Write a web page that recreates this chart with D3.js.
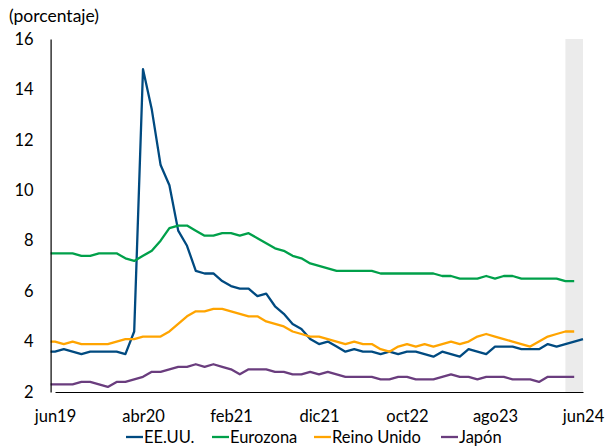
<!DOCTYPE html>
<html>
<head>
<meta charset="utf-8">
<script src="https://cdn.jsdelivr.net/npm/d3@7"></script>
<style>
  html, body { margin: 0; padding: 0; background: #fff; }
  svg { display: block; font-family: Lato, "Open Sans", sans-serif; }
</style>
</head>
<body>
<svg id="chart" width="606" height="446"></svg>
<script>
// ---- Data (monthly, may19 .. jun24) ----
const monthNames = ["ene","feb","mar","abr","may","jun","jul","ago","sep","oct","nov","dic"];
const startMonth = new Date(2019, 4, 1); // may19 (just before the first labelled month)
const usa = [3.6,3.6,3.7,3.6,3.5,3.6,3.6,3.6,3.6,3.5,4.4,14.8,13.2,11.0,10.2,8.4,7.8,6.8,6.7,6.7,
  6.4,6.2,6.1,6.1,5.8,5.9,5.4,5.1,4.7,4.5,4.1,3.9,4.0,3.8,3.6,3.7,3.6,3.6,3.5,3.6,
  3.5,3.6,3.6,3.5,3.4,3.6,3.5,3.4,3.7,3.6,3.5,3.8,3.8,3.8,3.7,3.7,3.7,3.9,3.8,3.9,4.0,4.1];
const eurozona = [7.5,7.5,7.5,7.5,7.4,7.4,7.5,7.5,7.5,7.3,7.2,7.4,7.6,8.0,8.5,8.6,8.6,8.4,8.2,8.2,
  8.3,8.3,8.2,8.3,8.1,7.9,7.7,7.6,7.4,7.3,7.1,7.0,6.9,6.8,6.8,6.8,6.8,6.8,6.7,6.7,
  6.7,6.7,6.7,6.7,6.7,6.6,6.6,6.5,6.5,6.5,6.6,6.5,6.6,6.6,6.5,6.5,6.5,6.5,6.5,6.4,6.4];
const reinoUnido = [4.0,4.0,3.9,4.0,3.9,3.9,3.9,3.9,4.0,4.1,4.1,4.2,4.2,4.2,4.4,4.7,5.0,5.2,5.2,5.3,
  5.3,5.2,5.1,5.0,5.0,4.8,4.7,4.6,4.4,4.3,4.2,4.2,4.1,4.0,3.9,4.0,3.9,3.9,3.7,3.6,
  3.8,3.9,3.8,3.9,3.8,3.9,4.0,3.9,4.0,4.2,4.3,4.2,4.1,4.0,3.9,3.8,4.0,4.2,4.3,4.4,4.4];
const japon = [2.3,2.3,2.3,2.3,2.4,2.4,2.3,2.2,2.4,2.4,2.5,2.6,2.8,2.8,2.9,3.0,3.0,3.1,3.0,3.1,
  3.0,2.9,2.7,2.9,2.9,2.9,2.8,2.8,2.7,2.7,2.8,2.7,2.8,2.7,2.6,2.6,2.6,2.6,2.5,2.5,
  2.6,2.6,2.5,2.5,2.5,2.6,2.7,2.6,2.6,2.5,2.6,2.6,2.6,2.5,2.5,2.5,2.4,2.6,2.6,2.6,2.6];
const seriesNames = ["EE.UU.", "Eurozona", "Reino Unido", "Japón"];
const seriesColors = ["#004a80", "#00a04a", "#ffa400", "#6a3d7e"];
const tickLabels = ["jun19","abr20","feb21","dic21","oct22","ago23","jun24"];
const yTicks = [2,4,6,8,10,12,14,16];
const shadeRange = ["abr24","jun24"];
const yTitle = "(porcentaje)";

// month labels for every data point
const months = d3.range(usa.length).map(i => {
  const d = d3.timeMonth.offset(startMonth, i);
  return monthNames[d.getMonth()] + String(d.getFullYear() % 100).padStart(2, "0");
});

const svg = d3.select("#chart");
const L = 50.6, R = 587.4, T = 39, B = 392;

// category scale: jun19 .. jun24 with points at band centres
const cats = months.slice(1); // jun19..jun24 (61 categories)
const band = d3.scaleBand().domain(cats).range([L, R]).paddingInner(0).paddingOuter(0);
const step = band.step();
const xPos = m => {
  const idx = months.indexOf(m);
  return L + (idx - 1) * step + step / 2;
};
const y = d3.scaleLinear().domain([2, 16]).range([B, T]);

// shaded period
svg.append("rect")
  .attr("x", xPos(shadeRange[0]))
  .attr("y", y(16))
  .attr("width", xPos(shadeRange[1]) - xPos(shadeRange[0]))
  .attr("height", y(2) - y(16))
  .attr("fill", "#ebebeb");

// clip
svg.append("clipPath").attr("id", "plotclip")
  .append("rect").attr("x", L).attr("y", 0).attr("width", R - L + 10).attr("height", B + 2);

const line = d3.line().x(d => xPos(d.m)).y(d => y(d.v));
const allSeries = [usa, eurozona, reinoUnido, japon];
const g = svg.append("g").attr("clip-path", "url(#plotclip)");
allSeries.forEach((s, k) => {
  const pts = s.map((v, i) => ({ m: months[i], v }));
  g.append("path")
    .datum(pts)
    .attr("d", line)
    .attr("fill", "none")
    .attr("stroke", seriesColors[k])
    .attr("stroke-width", 2.3)
    .attr("stroke-linejoin", "round");
});

// y axis
const yAxis = d3.axisLeft(y).tickValues(yTicks).tickSize(0).tickPadding(17).tickFormat(d3.format("d"));
const ya = svg.append("g").attr("transform", `translate(${L},0)`).call(yAxis);
ya.select(".domain").attr("stroke", "#000").attr("stroke-width", 1.2);
ya.selectAll("text").attr("font-size", 16.5).attr("fill", "#000").attr("font-family", "Lato, sans-serif");

// x axis
const xAxisScale = d3.scalePoint().domain(cats).range([L + step / 2, R - step / 2]);
const xAxis = d3.axisBottom(xAxisScale).tickValues(tickLabels).tickSize(0).tickPadding(18);
const xa = svg.append("g").attr("transform", `translate(0,${B})`).call(xAxis);
xa.select(".domain").attr("stroke", "#000").attr("stroke-width", 1.2);
xa.selectAll("text").attr("font-size", 16.5).attr("fill", "#000").attr("font-family", "Lato, sans-serif");

// title
svg.append("text").attr("x", 9).attr("y", 22).attr("font-size", 17.5).attr("fill", "#000").text(yTitle);

// legend
const legendX = [126, 212, 314, 441];
seriesNames.forEach((n, k) => {
  const lg = svg.append("g").attr("transform", `translate(${legendX[k]},437)`);
  lg.append("line").attr("x1", 0).attr("x2", 17).attr("y1", 0).attr("y2", 0)
    .attr("stroke", seriesColors[k]).attr("stroke-width", 2.3);
  lg.append("text").attr("x", 18).attr("y", 6).attr("font-size", 16.5).attr("fill", "#000").text(n);
});
</script>
</body>
</html>
